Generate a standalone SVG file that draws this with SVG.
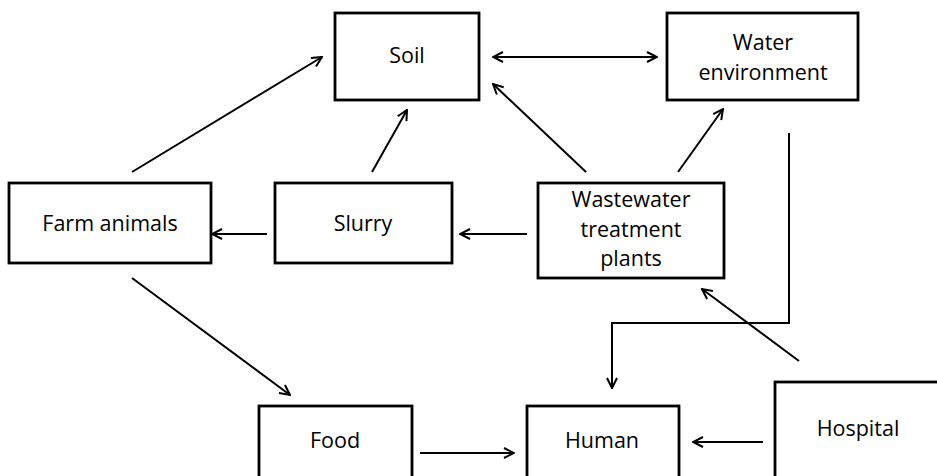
<svg xmlns="http://www.w3.org/2000/svg" width="937" height="476" viewBox="0 0 937 476">
<style>
.box{fill:#fff;stroke:#000;stroke-width:2.8}
.lbl{font-family:"Open Sans","Liberation Sans",sans-serif;font-size:21.5px;fill:#000;text-anchor:middle}
.c{fill:none;stroke:#000;stroke-width:2;marker-end:url(#ah)}
</style>
<defs>
<marker id="ah" viewBox="0 0 12 12" refX="11" refY="6" markerWidth="12" markerHeight="12" markerUnits="userSpaceOnUse" orient="auto-start-reverse">
<path d="M1,1 L11,6 L1,11" fill="none" stroke="#000" stroke-width="2"/>
</marker>
</defs>
<rect width="937" height="476" fill="#fff"/>
<g id="soil"><rect class="box" x="335" y="13" width="144" height="87"/><text class="lbl" x="407" y="63">Soil</text></g>
<g id="water"><rect class="box" x="667" y="13" width="191" height="87"/><text class="lbl" x="763" y="50">Water</text><text class="lbl" x="763" y="80">environment</text></g>
<g id="farm"><rect class="box" x="9" y="183" width="202" height="80"/><text class="lbl" x="110" y="231">Farm animals</text></g>
<g id="slurry"><rect class="box" x="275" y="183" width="177" height="80"/><text class="lbl" x="363" y="231">Slurry</text></g>
<g id="wwtp"><rect class="box" x="538" y="183" width="186" height="95"/><text class="lbl" x="631" y="207">Wastewater</text><text class="lbl" x="631" y="237">treatment</text><text class="lbl" x="631" y="266">plants</text></g>
<g id="food"><rect class="box" x="259" y="406" width="153" height="80"/><text class="lbl" x="335" y="448">Food</text></g>
<g id="human"><rect class="box" x="527" y="406" width="152" height="80"/><text class="lbl" x="602" y="448">Human</text></g>
<g id="hospital"><rect class="box" x="775" y="382" width="180" height="110"/><text class="lbl" x="858" y="436">Hospital</text></g>
<g id="connectors">
<line class="c" x1="132" y1="172" x2="322" y2="57"/>
<line class="c" x1="493" y1="57" x2="657" y2="57" marker-start="url(#ah)"/>
<line class="c" x1="372" y1="172" x2="407" y2="110"/>
<line class="c" x1="586" y1="172" x2="493" y2="84"/>
<line class="c" x1="678" y1="172" x2="723" y2="109"/>
<line class="c" x1="267" y1="234" x2="212" y2="234"/>
<line class="c" x1="527" y1="234" x2="460" y2="234"/>
<polyline class="c" points="789,133 789,323 612,323 612,388"/>
<line class="c" x1="799" y1="361" x2="702" y2="289"/>
<line class="c" x1="132" y1="278" x2="290" y2="395"/>
<line class="c" x1="420" y1="453" x2="514" y2="453"/>
<line class="c" x1="763" y1="442" x2="693" y2="442"/>
</g>
</svg>
